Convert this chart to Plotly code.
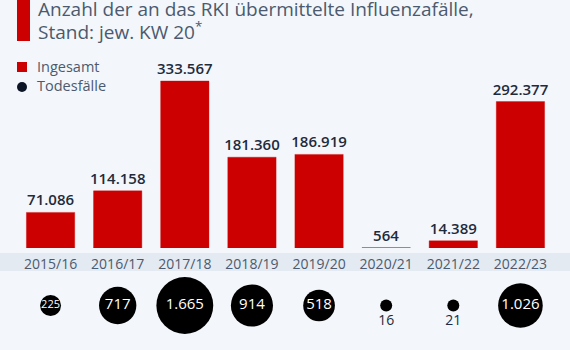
import plotly.graph_objects as go

seasons = ["2015/16", "2016/17", "2017/18", "2018/19", "2019/20", "2020/21", "2021/22", "2022/23"]
cases_total = [71086, 114158, 333567, 181360, 186919, 564, 14389, 292377]
deaths = [225, 717, 1665, 914, 518, 16, 21, 1026]
title_lines = ["Anzahl der an das RKI übermittelte Influenzafälle,", "Stand: jew. KW 20<sup>*</sup>"]
legend_names = ["Ingesamt", "Todesfälle"]

def de_fmt(v):
    return f"{v:,}".replace(",", ".")

W, H = 570, 350
L, R = 17, 16
PW = W - L - R
BG = "#f3f6fa"
RED = "#cc0000"
DARK = "#1e2b3c"
GREY = "#4b5a6e"
FONT = "Open Sans"

def fy(px):
    return (H - px) / H

def fx(px):
    return (px - L) / PW

base_px, top_ref_px = 248, 81
px_per_unit = (base_px - top_ref_px) / max(cases_total)
bar_top_px = 40
y1_max = (base_px - bar_top_px) / px_per_unit

death_labels = [de_fmt(v) for v in deaths]
small = [v < 100 for v in deaths]
text_pos = ["bottom center" if s else "middle center" for s in small]
text_col = [DARK if s else "white" for s in small]
text_size = [14 if s else (11 if v < 300 else 15) for s, v in zip(small, deaths)]

fig = go.Figure()
fig.add_trace(go.Bar(
    x=seasons, y=cases_total, name=legend_names[0],
    marker=dict(color=RED, line=dict(width=0.8, color="rgba(204,0,0,0.45)")),
    text=[de_fmt(v) for v in cases_total], textposition="outside",
    constraintext="none", textangle=0,
    textfont=dict(family=FONT, size=15, color=DARK, weight=600),
    cliponaxis=False, yaxis="y", xaxis="x", showlegend=False,
))
fig.add_trace(go.Scatter(
    x=seasons, y=[0] * len(deaths), name=legend_names[1],
    mode="markers+text",
    marker=dict(color="black", opacity=1, size=deaths, sizemode="area", sizeref=1.03,
                sizemin=6, line=dict(width=0)),
    text=death_labels, textposition=text_pos,
    textfont=dict(family=FONT, size=text_size, color=text_col),
    cliponaxis=False, yaxis="y2", xaxis="x", showlegend=False,
))

annotations = [
    dict(text=title_lines[0], x=fx(36), y=fy(24), xref="paper", yref="paper",
         xanchor="left", yanchor="bottom", showarrow=False,
         font=dict(family=FONT, size=19, color=GREY)),
    dict(text=title_lines[1], x=fx(36), y=fy(47), xref="paper", yref="paper",
         xanchor="left", yanchor="bottom", showarrow=False,
         font=dict(family=FONT, size=19, color=GREY)),
    dict(text=legend_names[0], x=fx(34.5), y=fy(66), xref="paper", yref="paper",
         xanchor="left", yanchor="middle", showarrow=False,
         font=dict(family=FONT, size=14.5, color=GREY)),
    dict(text=legend_names[1], x=fx(34.5), y=fy(85.5), xref="paper", yref="paper",
         xanchor="left", yanchor="middle", showarrow=False,
         font=dict(family=FONT, size=14.5, color=GREY)),
]

shapes = [
    dict(type="rect", xref="paper", yref="paper", layer="below",
         x0=fx(0), x1=fx(W), y0=fy(271), y1=fy(253),
         fillcolor="#e4eaf2", line=dict(width=0)),
    dict(type="rect", xref="paper", yref="paper",
         x0=fx(17), x1=fx(30), y0=fy(41), y1=fy(-5),
         fillcolor=RED, line=dict(width=0)),
    dict(type="rect", xref="paper", yref="paper",
         x0=fx(17), x1=fx(27), y0=fy(72), y1=fy(62),
         fillcolor=RED, line=dict(width=0)),
    dict(type="circle", xref="paper", yref="paper",
         x0=fx(17), x1=fx(27), y0=fy(92), y1=fy(82),
         fillcolor="#0b1526", line=dict(width=0)),
]

fig.update_layout(
    width=W, height=H,
    margin=dict(l=L, r=R, t=0, b=0),
    paper_bgcolor=BG, plot_bgcolor=BG,
    bargap=0.28,
    showlegend=False,
    xaxis=dict(type="category", range=[-0.5, len(seasons) - 0.5], showgrid=False,
               zeroline=False, showline=False, ticks="", anchor="free", position=fy(253.5),
               tickfont=dict(family=FONT, size=14, color=GREY)),
    yaxis=dict(domain=[fy(base_px), fy(bar_top_px)], range=[0, y1_max], visible=False,
               showgrid=False, zeroline=False, showline=False),
    yaxis2=dict(domain=[fy(340), fy(271)], range=[-1, 1], visible=False,
                showgrid=False, zeroline=False, showline=False),
    shapes=shapes,
    annotations=annotations,
)

fig.write_html("out.html")
